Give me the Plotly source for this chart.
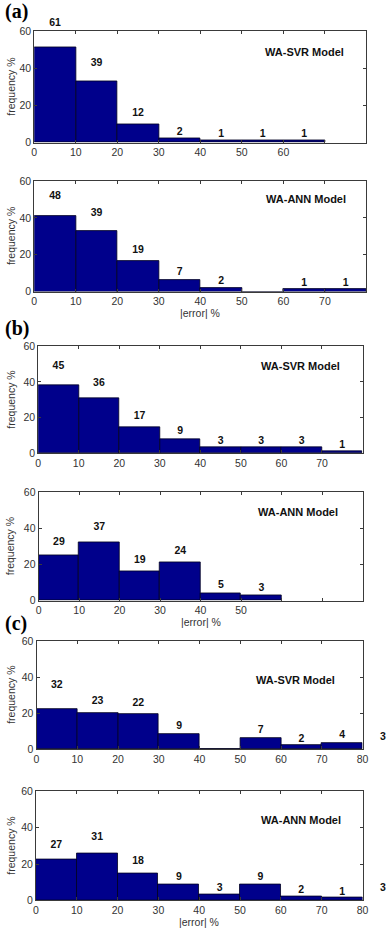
import plotly.graph_objects as go

# ---------------- data ----------------
bin_centers = [5, 15, 25, 35, 45, 55, 65, 75, 85]

# (a)
a_svr_freq = [51.5, 32.8, 9.8, 2.0, 1.2, 1.2, 1.2]
a_svr_counts = [61, 39, 12, 2, 1, 1, 1]
a_ann_freq = [41.1, 33.0, 16.4, 6.2, 2.0, 0, 1.2, 1.2]
a_ann_counts = [48, 39, 19, 7, 2, 0, 1, 1]
# (b)
b_svr_freq = [38.1, 30.9, 14.9, 8.1, 3.3, 3.3, 3.3, 1.1]
b_svr_counts = [45, 36, 17, 9, 3, 3, 3, 1]
b_ann_freq = [25.2, 32.5, 16.4, 21.3, 4.0, 3.1]
b_ann_counts = [29, 37, 19, 24, 5, 3]
# (c)
c_svr_freq = [22.1, 20.1, 19.4, 8.4, 0, 6.2, 2.2, 3.3]
c_svr_counts = [32, 23, 22, 9, 0, 7, 2, 4, 3]
c_ann_freq = [22.8, 25.9, 15.0, 8.5, 3.3, 8.5, 2.2, 1.4]
c_ann_counts = [27, 31, 18, 9, 3, 9, 2, 1, 3]

x_tick_vals = [0, 10, 20, 30, 40, 50, 60, 70, 80]
x_tick_labels_a_svr = ["0", "10", "20", "30", "40", "50", "60", "", ""]
x_tick_labels_a_ann = ["0", "10", "20", "30", "40", "50", "60", "70", ""]
x_tick_labels_b_svr = ["0", "10", "20", "30", "40", "50", "60", "70", ""]
x_tick_labels_b_ann = ["0", "10", "20", "30", "40", "50", "", "", ""]
x_tick_labels_c = ["0", "10", "20", "30", "40", "50", "60", "70", "80"]
y_tick_vals = [0, 20, 40, 60]

model_names = ["WA-SVR Model", "WA-ANN Model"]

panels = [
    dict(freq=a_svr_freq, counts=a_svr_counts, ticks=x_tick_labels_a_svr, name=model_names[0],
         box=(32, 372, 25.7, 138.3), xtitle=False),
    dict(freq=a_ann_freq, counts=a_ann_counts, ticks=x_tick_labels_a_ann, name=model_names[1],
         box=(32, 372, 177.3, 289.3), xtitle=True),
    dict(freq=b_svr_freq, counts=b_svr_counts, ticks=x_tick_labels_b_svr, name=model_names[0],
         box=(36, 368, 344.7, 453.3), xtitle=False),
    dict(freq=b_ann_freq, counts=b_ann_counts, ticks=x_tick_labels_b_ann, name=model_names[1],
         box=(36.5, 368, 492.7, 602.3), xtitle=True),
    dict(freq=c_svr_freq, counts=c_svr_counts, ticks=x_tick_labels_c, name=model_names[0],
         box=(34.3, 368, 643.3, 752.7), xtitle=False),
    dict(freq=c_ann_freq, counts=c_ann_counts, ticks=x_tick_labels_c, name=model_names[1],
         box=(33.7, 368, 795.7, 906), xtitle=True),
]
name_pos = [(351, 46.7), (353, 196), (347, 364.3), (345, 512.7), (342, 682.7), (348, 825)]

W, H = 390, 933
BAR = "#00008B"
AX = "#3a3a3a"
FONT = "Liberation Sans, Arial, sans-serif"
X_RANGE = [0, 80]
Y_RANGE = [0, 60]

fig = go.Figure()
layout = dict(width=W, height=H, margin=dict(l=0, r=0, t=0, b=0), autosize=False,
              paper_bgcolor="white", plot_bgcolor="rgba(0,0,0,0)", showlegend=False,
              annotations=[], bargap=0)

def px(x):
    return x / W

def py(y):
    return 1 - y / H

NP = len(panels)
for i, p in enumerate(panels):
    k = "" if i == 0 else str(i + 1)
    kl = str(i + 1 + NP)
    xa, ya = "x" + k, "y" + k
    xl, yl = "x" + kl, "y" + kl
    x0, x1, y0, y1 = p["box"]
    n = len(p["freq"])
    fig.add_trace(go.Bar(x=bin_centers[:n], y=p["freq"], width=10,
                         marker=dict(color=BAR, line=dict(color="#000020", width=0.8)),
                         xaxis=xa, yaxis=ya, hoverinfo="skip"))
    # count labels on an invisible, same-scale axis pair that extends past the frame
    lx = [c for c, v in zip(bin_centers, p["counts"]) if v > 0]
    lv = [v for v in p["counts"] if v > 0]
    fig.add_trace(go.Scatter(x=lx, y=[v + 3.5 for v in lv], text=[str(v) for v in lv],
                             mode="text", cliponaxis=False,
                             textfont=dict(family=FONT, size=10.5, color="#111"),
                             texttemplate="<b>%{text}</b>",
                             xaxis=xl, yaxis=yl, hoverinfo="skip"))
    common = dict(showline=True, linecolor=AX, linewidth=1, mirror="ticks", ticks="inside",
                  ticklen=3, tickcolor=AX, showgrid=False, zeroline=False,
                  tickfont=dict(family=FONT, size=10.5, color="#333"))
    layout["xaxis" + k] = dict(domain=[px(x0), px(x1)], range=X_RANGE, anchor=ya,
                               tickmode="array", tickvals=x_tick_vals, ticktext=p["ticks"], **common)
    layout["yaxis" + k] = dict(domain=[py(y1), py(y0)], range=Y_RANGE, anchor=xa,
                               tickmode="array", tickvals=y_tick_vals, **common)
    # extended invisible axes with identical scale
    xr = W - 0.5
    yt = max(0.5, y0 - 28)
    layout["xaxis" + kl] = dict(domain=[px(x0), px(xr)], anchor=yl, visible=False,
                                range=[X_RANGE[0], X_RANGE[1] * (xr - x0) / (x1 - x0)])
    layout["yaxis" + kl] = dict(domain=[py(y1), py(yt)], anchor=xl, visible=False,
                                range=[Y_RANGE[0], Y_RANGE[1] * (y1 - yt) / (y1 - y0)])
    # y title
    layout["annotations"].append(dict(text="frequency %", xref="paper", yref="paper",
                                      x=px(8), y=py((y0 + y1) / 2), textangle=-90,
                                      showarrow=False, xanchor="center", yanchor="middle",
                                      font=dict(family=FONT, size=10.5, color="#333")))
    # model name
    nx, ny = name_pos[i]
    layout["annotations"].append(dict(text="<b>" + p["name"] + "</b>", xref="paper", yref="paper",
                                      x=px(nx), y=py(ny), showarrow=False,
                                      xanchor="right", yanchor="middle",
                                      font=dict(family=FONT, size=11, color="#111")))
    if p["xtitle"]:
        layout["annotations"].append(dict(text="|error| %", xref="paper", yref="paper",
                                          x=px((x0 + x1) / 2), y=py(min(y1 + 21.5, H - 5.5)),
                                          showarrow=False, xanchor="center", yanchor="middle",
                                          font=dict(family=FONT, size=10.5, color="#333")))

for lab, yc in [("(a)", 6), ("(b)", 327), ("(c)", 626)]:
    layout["annotations"].append(dict(text="<b>" + lab + "</b>", xref="paper", yref="paper",
                                      x=px(0), y=py(yc), showarrow=False,
                                      xanchor="left", yanchor="middle",
                                      font=dict(family="Liberation Serif, Times New Roman, serif",
                                                size=20, color="#000")))

fig.update_layout(**layout)
fig.write_html("out.html",
               config={"displayModeBar": False, "responsive": False},
               post_script="document.body.style.margin='0';document.body.style.overflow='hidden';")
